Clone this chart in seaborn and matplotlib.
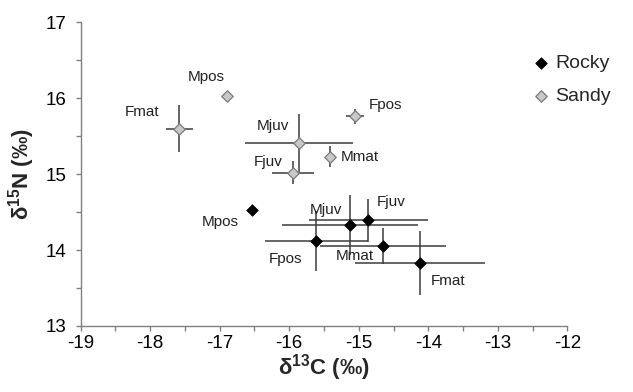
import matplotlib
matplotlib.use("Agg")
import matplotlib.pyplot as plt
import seaborn as sns
import pandas as pd
from matplotlib.ticker import MultipleLocator

# ---- data ----
rocky_labels = ["Mpos", "Mjuv", "Fjuv", "Fpos", "Mmat", "Fmat"]
rocky_x = [-16.54, -15.13, -14.86, -15.61, -14.65, -14.12]
rocky_y = [14.53, 14.33, 14.39, 14.12, 14.05, 13.83]
rocky_xerr = [0.0, 0.98, 0.86, 0.74, 0.91, 0.94]
rocky_yerr = [0.0, 0.40, 0.28, 0.40, 0.24, 0.42]

sandy_labels = ["Mpos", "Fmat", "Mjuv", "Fjuv", "Mmat", "Fpos"]
sandy_x = [-16.90, -17.58, -15.86, -15.95, -15.42, -15.06]
sandy_y = [16.03, 15.60, 15.41, 15.02, 15.23, 15.76]
sandy_xerr = [0.0, 0.19, 0.78, 0.30, 0.05, 0.13]
sandy_yerr = [0.0, 0.31, 0.38, 0.15, 0.14, 0.10]

# label offsets (points) relative to each marker
rocky_off = [(-23, -9), (-17, 11), (16, 13), (-22, -13), (-20, -7), (20, -13)]
sandy_off = [(-15, 13.5), (-27, 12), (-19, 12), (-18, 8), (22, 0), (22, 8.5)]

df = pd.DataFrame({
    "d13C": rocky_x + sandy_x,
    "d15N": rocky_y + sandy_y,
    "habitat": ["Rocky"] * len(rocky_x) + ["Sandy"] * len(sandy_x),
})

sns.set_style("white")
plt.rcParams["font.family"] = ["Liberation Sans", "DejaVu Sans"]
plt.rcParams["mathtext.fontset"] = "custom"
plt.rcParams["mathtext.rm"] = "Liberation Sans"
plt.rcParams["mathtext.bf"] = "Liberation Sans:bold"
plt.rcParams["axes.unicode_minus"] = False

fig = plt.figure(figsize=(6.33, 3.92), dpi=100)
ax = fig.add_axes([0.1275, 0.1684, 0.7687, 0.7747])

ebc = "#3c3c3c"
ax.errorbar(rocky_x, rocky_y, xerr=rocky_xerr, yerr=rocky_yerr, fmt="none",
            ecolor=ebc, elinewidth=1.1, capsize=0, zorder=1)
ax.errorbar(sandy_x, sandy_y, xerr=sandy_xerr, yerr=sandy_yerr, fmt="none",
            ecolor=ebc, elinewidth=1.1, capsize=0, zorder=1)

sns.scatterplot(data=df[df.habitat == "Rocky"], x="d13C", y="d15N", color="black",
                marker="D", s=34, edgecolor="black", linewidth=0.6, ax=ax,
                zorder=3, label="Rocky")
sns.scatterplot(data=df[df.habitat == "Sandy"], x="d13C", y="d15N", color="#c8c8c8",
                marker="D", s=34, edgecolor="#7a7a7a", linewidth=0.9, ax=ax,
                zorder=3, label="Sandy")

for lab, x, y, off in zip(rocky_labels, rocky_x, rocky_y, rocky_off):
    ax.annotate(lab, (x, y), xytext=off, textcoords="offset points",
                ha="center", va="center", fontsize=11, color="#222222")
for lab, x, y, off in zip(sandy_labels, sandy_x, sandy_y, sandy_off):
    ax.annotate(lab, (x, y), xytext=off, textcoords="offset points",
                ha="center", va="center", fontsize=11, color="#222222")

ax.set_xlim(-19, -12)
ax.set_ylim(13, 17)
ax.xaxis.set_major_locator(MultipleLocator(1))
ax.xaxis.set_minor_locator(MultipleLocator(0.5))
ax.yaxis.set_major_locator(MultipleLocator(1))
ax.yaxis.set_minor_locator(MultipleLocator(0.5))

spc = "#808080"
for s in ["top", "right"]:
    ax.spines[s].set_visible(False)
for s in ["left", "bottom"]:
    ax.spines[s].set_color(spc)
    ax.spines[s].set_linewidth(1.0)

ax.tick_params(axis="both", which="both", direction="out", length=3.5,
               width=1.0, color=spc, labelsize=13.5, labelcolor="black")
ax.tick_params(axis="x", which="both", bottom=True, pad=3)
ax.tick_params(axis="y", which="both", left=True, pad=7)

ax.set_xlabel(r"δ$^{\mathbf{13}}$C (‰)", fontsize=16, fontweight="bold")
ax.set_ylabel(r"δ$^{\mathbf{15}}$N (‰)", fontsize=16, fontweight="bold")
ax.xaxis.set_label_coords(0.5, -0.085)
ax.yaxis.set_label_coords(-0.09, 0.5)

leg = ax.legend(loc="upper left", bbox_to_anchor=(0.915, 0.92), frameon=False,
                fontsize=14, handlelength=0.8, handletextpad=0.3,
                labelspacing=0.8, borderaxespad=0)

fig.savefig("out.png", dpi=100)
